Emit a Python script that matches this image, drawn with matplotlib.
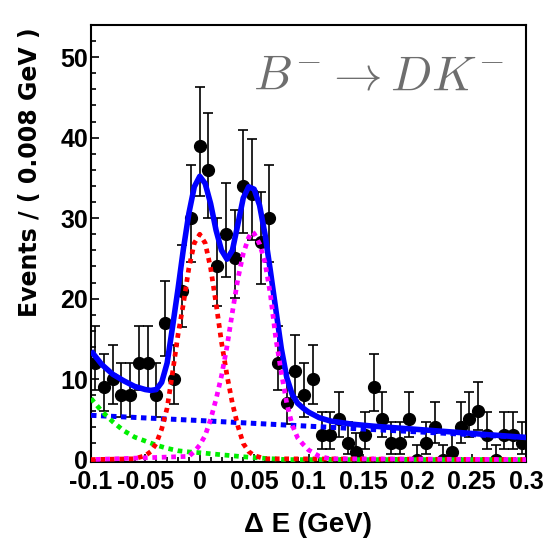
import numpy as np
import matplotlib
matplotlib.use("Agg")
import matplotlib.pyplot as plt
from matplotlib.ticker import MultipleLocator

# Delta E histogram: 50 bins of 8 MeV between -0.1 and 0.3 GeV
de_lo, de_hi, n_bins = -0.1, 0.3, 50
events = [12, 9, 10, 8, 8, 12, 12, 8, 17, 10,
          21, 30, 39, 36, 24, 28, 25, 34, 33, 27,
          30, 12, 7, 11, 8, 10, 3, 3, 5, 2,
          1, 3, 9, 5, 2, 2, 5, 0, 2, 4,
          0, 1, 4, 5, 6, 3, 0, 3, 3, 2]

# Total fit projection
total_x = [-0.1, -0.09, -0.08, -0.07, -0.06, -0.05, -0.045, -0.04, -0.035, -0.03,
           -0.025, -0.02, -0.015, -0.01, -0.005, 0.0, 0.005, 0.01, 0.015, 0.02,
           0.025, 0.03, 0.035, 0.04, 0.045, 0.05, 0.055, 0.06, 0.065, 0.07,
           0.075, 0.08, 0.085, 0.09, 0.095, 0.1, 0.11, 0.12, 0.14, 0.16,
           0.18, 0.2, 0.22, 0.24, 0.26, 0.28, 0.3]
total_y = [13.5, 11.8, 10.6, 9.8, 9.1, 8.7, 8.6, 8.7, 9.6, 12.0,
           16.5, 21.2, 26.2, 30.6, 33.9, 35.2, 34.3, 31.8, 28.5, 26.0,
           24.9, 26.0, 29.2, 32.5, 33.9, 33.6, 31.6, 28.0, 23.4, 18.6,
           13.8, 10.2, 8.1, 7.0, 6.4, 5.9, 5.2, 4.8, 4.4, 4.15,
           3.95, 3.75, 3.55, 3.35, 3.15, 2.95, 2.75]

# Continuum (qq) background
cont_x = [-0.1, 0.0, 0.1, 0.2, 0.3]
cont_y = [5.5, 4.85, 4.15, 3.45, 2.75]

# BB background
bb_x = [-0.1, -0.09, -0.08, -0.07, -0.06, -0.05, -0.04, -0.03, -0.02, -0.01,
        0.0, 0.02, 0.04, 0.06, 0.08, 0.3]
bb_y = [7.6, 6.0, 4.7, 3.6, 2.8, 2.3, 1.8, 1.4, 1.1, 0.95,
        0.85, 0.6, 0.35, 0.15, 0.0, 0.0]

# B- -> D K- signal
sig_x = [-0.1, -0.06, -0.05, -0.045, -0.04, -0.035, -0.03, -0.025, -0.02, -0.015,
         -0.01, -0.005, 0.0, 0.005, 0.01, 0.015, 0.02, 0.025, 0.03, 0.035,
         0.04, 0.045, 0.05, 0.06, 0.3]
sig_y = [0.0, 0.1, 0.5, 1.0, 2.0, 3.8, 6.4, 10.8, 15.5, 19.4,
         23.8, 26.9, 28.0, 26.9, 23.8, 19.4, 14.6, 10.5, 7.0, 4.2,
         2.0, 1.0, 0.5, 0.1, 0.0]

# B- -> D pi- feed-across
dpi_x = [-0.1, -0.01, -0.005, 0.0, 0.005, 0.01, 0.015, 0.02, 0.025, 0.03,
         0.035, 0.04, 0.045, 0.048, 0.05, 0.055, 0.06, 0.065, 0.07, 0.075,
         0.08, 0.085, 0.09, 0.095, 0.1, 0.11, 0.12, 0.3]
dpi_y = [0.0, 0.4, 1.0, 1.8, 3.0, 5.0, 7.5, 10.4, 14.0, 18.3,
         22.4, 25.6, 27.6, 28.3, 28.1, 26.8, 24.5, 20.5, 15.0, 10.8,
         7.0, 4.3, 2.7, 1.9, 1.2, 0.4, 0.1, 0.0]

xtick_vals = [-0.1, -0.05, 0.0, 0.05, 0.1, 0.15, 0.2, 0.25, 0.3]
xtick_labels = ["-0.1", "-0.05", "0", "0.05", "0.1", "0.15", "0.2", "0.25", "0.3"]


def poisson_errors(n):
    # approximate 68% Poisson interval (Gehrels)
    n = np.asarray(n, dtype=float)
    up = 1.0 + np.sqrt(n + 0.75)
    safe = np.where(n > 0, n, 1.0)
    lo_lim = safe * (1.0 - 1.0 / (9.0 * safe) - 1.0 / (3.0 * np.sqrt(safe))) ** 3
    lo = np.where(n > 0, n - lo_lim, 0.0)
    return lo, up


def main():
    plt.rcParams["axes.unicode_minus"] = False
    plt.rcParams["mathtext.fontset"] = "cm"
    tick_font = ["Liberation Sans", "DejaVu Sans"]

    fig = plt.figure(figsize=(5.44, 5.39), dpi=100)
    ax = fig.add_axes([91 / 544, 1 - 462 / 539, 435 / 544, 437 / 539])

    width = (de_hi - de_lo) / n_bins
    centers = de_lo + width * (np.arange(n_bins) + 0.5)
    err_lo, err_hi = poisson_errors(events)

    ax.errorbar(centers, events, yerr=[err_lo, err_hi], fmt="o", color="black",
                ms=8.5, elinewidth=1.2, capsize=3.6, capthick=1.2, zorder=2)

    ax.plot(total_x, total_y, color="#0000ff", lw=4.0, solid_capstyle="butt", zorder=3)
    ax.plot(cont_x, cont_y, color="#0000ff", lw=3.6, ls=(0, (1.1, 0.9)), zorder=4)
    ax.plot(bb_x, bb_y, color="#00ee00", lw=3.4, ls=(0, (1.0, 1.0)), zorder=5)
    ax.plot(sig_x, sig_y, color="#ff0000", lw=3.4, ls=(0, (1.0, 1.0)), zorder=6)
    ax.plot(dpi_x, dpi_y, color="#ff00ff", lw=3.4, ls=(1.0, (1.0, 1.0)), zorder=7)

    ax.set_xlim(de_lo, de_hi)
    ax.set_ylim(-0.3, 54)
    ax.set_xticks(xtick_vals)
    ax.set_xticklabels(xtick_labels)
    ax.set_yticks([0, 10, 20, 30, 40, 50])
    ax.xaxis.set_minor_locator(MultipleLocator(0.01))
    ax.yaxis.set_minor_locator(MultipleLocator(2))
    ax.tick_params(which="both", direction="in", top=False, right=False, width=1.2)
    ax.tick_params(which="major", length=6)
    ax.tick_params(which="minor", length=3.5)
    ax.tick_params(axis="x", pad=6)
    ax.tick_params(axis="y", pad=2)
    for lab in ax.get_xticklabels() + ax.get_yticklabels():
        lab.set_family(tick_font)
        lab.set_fontweight("bold")
        lab.set_fontsize(18)
    for sp in ax.spines.values():
        sp.set_linewidth(1.5)

    fig.text(30 / 544, 1 - 27 / 539, "Events / ( 0.008 GeV )", rotation=90,
             ha="center", va="top", fontsize=17, fontweight="bold",
             family="DejaVu Sans")
    fig.text(308 / 544, 1 - 525 / 539, "\u0394 E (GeV)", ha="center", va="center",
             fontsize=20, fontweight="bold", family=["Liberation Sans", "DejaVu Sans"])
    fig.text(378 / 544, 1 - 90 / 539, r"$B^{-} \rightarrow DK^{-}$", ha="center",
             va="baseline", fontsize=35, color="#6e6e6e")

    fig.savefig("out.png", dpi=100)


if __name__ == "__main__":
    main()
